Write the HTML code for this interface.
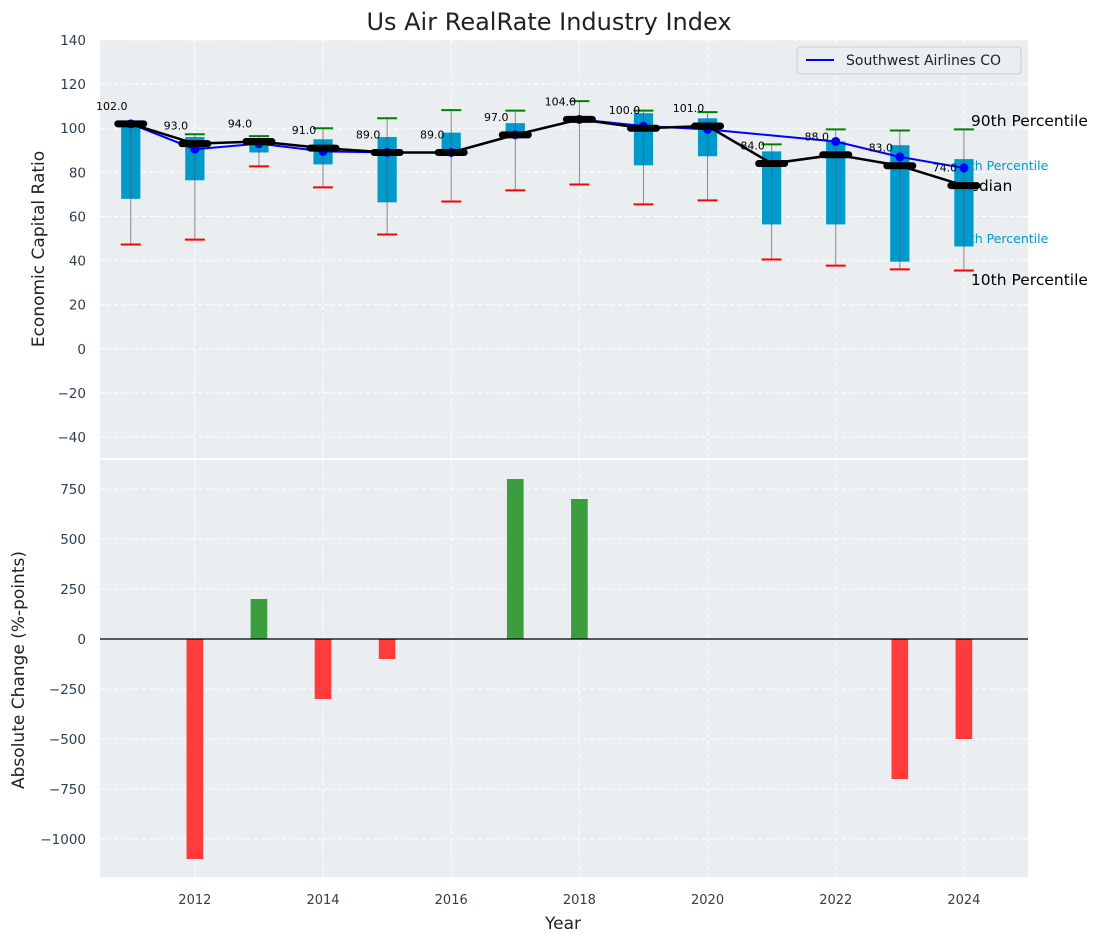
<!DOCTYPE html>
<html><head><meta charset="utf-8"><style>
body{margin:0;background:#fff;}
svg{font-family:"DejaVu Sans","Liberation Sans",sans-serif;}
</style></head><body>
<svg id="c" width="1107" height="942" xmlns="http://www.w3.org/2000/svg"></svg>
<script>
const years=[2011,2012,2013,2014,2015,2016,2017,2018,2019,2020,2021,2022,2023,2024];
const medians=[102,93,94,91,89,89,97,104,100,101,84,88,83,74];
const q75=[102,96,94,95,96,98,102.3,104.5,106.8,104.5,89.5,94,92.3,86];
const q25=[68,76.4,89,83.6,66.4,89,97,103.5,83.2,87.3,56.4,56.4,39.5,46.4];
const p90=[102,97.3,96.4,100,104.5,108.2,108,112.3,108,107.3,92.7,99.5,99,99.5];
const p10=[47.3,49.5,82.7,73.2,51.8,66.8,71.8,74.5,65.5,67.3,40.5,37.7,36,35.5];
const company=[102,90.5,93,89.5,89,89,97,104,101,99.5,null,94,87,82];
const changes=[0,-1100,200,-300,-100,0,800,700,0,0,0,0,-700,-500];
const yTicksTop=[-40,-20,0,20,40,60,80,100,120,140];
const yTicksBot=[-1000,-750,-500,-250,0,250,500,750];
const xTicks=[2012,2014,2016,2018,2020,2022,2024];

const svg=document.getElementById('c');
const NS='http://www.w3.org/2000/svg';
function mk(t,a,p){const e=document.createElementNS(NS,t);for(const k in a)e.setAttribute(k,a[k]);(p||svg).appendChild(e);return e;}
const L=100,R=1028,T1=40,B1=458,T2=460,B2=877;
const X=v=>L+(v-2010.52)/(2025-2010.52)*(R-L);
const Y1=v=>T1+(140-v)/(140+49.5)*(B1-T1);
const Y2=v=>T2+(895-v)/(895+1190)*(B2-T2);
const tc='#2e3f50';

let e=mk('rect',{x:L,y:T1,width:R-L,height:B1-T1,fill:'#eaeef0'});

e=mk('rect',{x:L,y:T2,width:R-L,height:B2-T2,fill:'#eaeef0'});


xTicks.forEach(t=>{
  mk('line',{x1:X(t),x2:X(t),y1:T1,y2:B1,stroke:'#fff','stroke-dasharray':'4,3','stroke-width':1});
  mk('line',{x1:X(t),x2:X(t),y1:T2,y2:B2,stroke:'#fff','stroke-dasharray':'4,3','stroke-width':1});
  e=mk('text',{x:X(t),y:B2+27,'text-anchor':'middle','font-size':13,fill:tc});e.textContent=t;
  
});
yTicksTop.forEach(t=>{
  mk('line',{x1:L,x2:R,y1:Y1(t),y2:Y1(t),stroke:'#fff','stroke-dasharray':'4,3'});
  e=mk('text',{x:L-14,y:Y1(t)+5,'text-anchor':'end','font-size':13.5,fill:tc});e.textContent=t<0?'\u2212'+(-t):t;
  
});
yTicksBot.forEach(t=>{
  mk('line',{x1:L,x2:R,y1:Y2(t),y2:Y2(t),stroke:'#fff','stroke-dasharray':'4,3'});
  e=mk('text',{x:L-14,y:Y2(t)+5,'text-anchor':'end','font-size':13.5,fill:tc});e.textContent=t<0?'\u2212'+(-t):t;
  
});

const lx=X(2024);
[['90th Percentile',lx+7,126,15.5,'#000'],['75th Percentile',lx-10,170,12.5,'#0099cc'],
 ['Median',lx-8,191,15.5,'#000'],['25th Percentile',lx-10,243,12.5,'#0099cc'],
 ['10th Percentile',lx+7,285,15.5,'#000']].forEach(a=>{
  e=mk('text',{x:a[1],y:a[2],'font-size':a[3],fill:a[4]});e.textContent=a[0];
  
});

years.forEach((yr,i)=>{
  const x=X(yr),bw=0.3*(R-L)/(2025-2010.52);
  e=mk('line',{x1:x,x2:x,y1:Y1(p90[i]),y2:Y1(p10[i]),stroke:'#888','stroke-width':1});
  
  e=mk('rect',{x:x-bw/2,y:Y1(q75[i]),width:bw,height:Math.max(1,Y1(q25[i])-Y1(q75[i])),fill:'#0099cc'});
  
  mk('line',{x1:x,x2:x,y1:Y1(q75[i]),y2:Y1(q25[i]),stroke:'#555','stroke-width':1,opacity:0.6});
  e=mk('line',{x1:x-10,x2:x+10,y1:Y1(p90[i]),y2:Y1(p90[i]),stroke:'green','stroke-width':2});
  
  e=mk('line',{x1:x-10,x2:x+10,y1:Y1(p10[i]),y2:Y1(p10[i]),stroke:'red','stroke-width':2});
  
});

let pts=[];years.forEach((yr,i)=>{if(company[i]!=null)pts.push(X(yr)+','+Y1(company[i]));});
e=mk('polyline',{points:pts.join(' '),fill:'none',stroke:'blue','stroke-width':2});

years.forEach((yr,i)=>{if(company[i]==null)return;
  e=mk('circle',{cx:X(yr),cy:Y1(company[i]),r:4.5,fill:'blue'});
  });

e=mk('polyline',{points:years.map((yr,i)=>X(yr)+','+Y1(medians[i])).join(' '),fill:'none',stroke:'#000','stroke-width':2.5});

years.forEach((yr,i)=>{
  e=mk('line',{x1:X(yr)-13,x2:X(yr)+13,y1:Y1(medians[i]),y2:Y1(medians[i]),stroke:'#000','stroke-width':7,'stroke-linecap':'round'});
  
  e=mk('text',{x:X(yr)-19,y:Y1(medians[i])-14,'text-anchor':'middle','font-size':11,fill:'#000'});e.textContent=medians[i].toFixed(1);
  
});

years.forEach((yr,i)=>{if(!changes[i])return;
  const bw=0.26*(R-L)/(2025-2010.52),v=changes[i];
  e=mk('rect',{x:X(yr)-bw/2,y:Math.min(Y2(0),Y2(v)),width:bw,height:Math.abs(Y2(v)-Y2(0)),fill:v>0?'#3a9e3e':'#ff3b3b'});
  
});
e=mk('line',{x1:L,x2:R,y1:Y2(0),y2:Y2(0),stroke:'#000','stroke-width':1.2});


const lg=mk('g',{});
mk('rect',{x:797,y:47,width:224,height:27,rx:3,fill:'#eaeef0',stroke:'#ccc'},lg);
mk('line',{x1:806,x2:834,y1:60,y2:60,stroke:'blue','stroke-width':2},lg);
e=mk('text',{x:846,y:65,'font-size':14,fill:'#222'},lg);e.textContent='Southwest Airlines CO';


e=mk('text',{x:549,y:30,'text-anchor':'middle','font-size':24,fill:'#222'});e.textContent='Us Air RealRate Industry Index';

e=mk('text',{x:563,y:929,'text-anchor':'middle','font-size':17,fill:'#222'});e.textContent='Year';

e=mk('text',{x:0,y:0,'text-anchor':'middle','font-size':17,fill:'#222',transform:'translate(44,249) rotate(-90)'});e.textContent='Economic Capital Ratio';

e=mk('text',{x:0,y:0,'text-anchor':'middle','font-size':17,fill:'#222',transform:'translate(24,670) rotate(-90)'});e.textContent='Absolute Change (%-points)';

</script>
</body></html>
